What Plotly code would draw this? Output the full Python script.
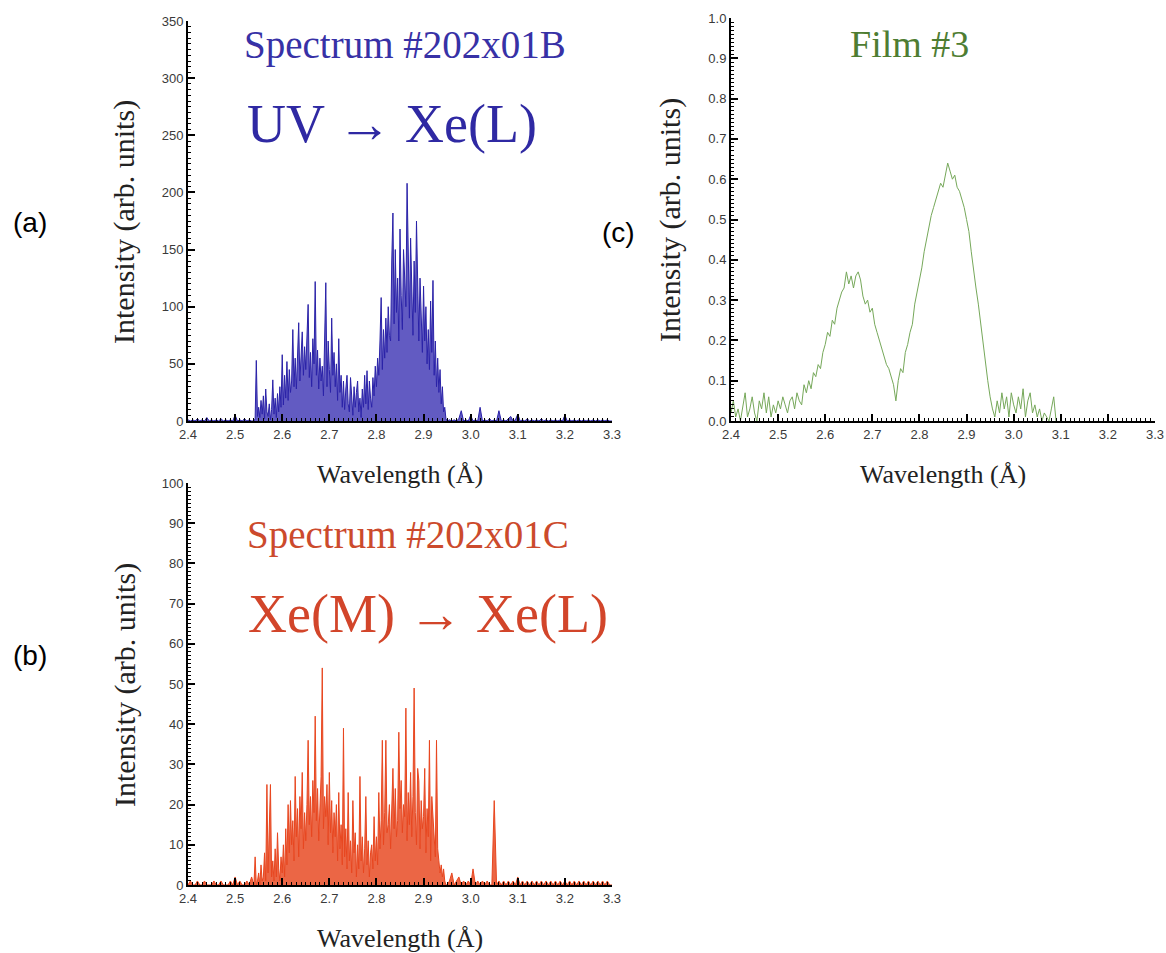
import plotly.graph_objects as go

W, H = 1166, 953

# ---------------- Panel (a): Spectrum #202x01B (UV -> Xe(L)) ----------------
A_LEFT_START, A_LEFT_STEP = 2.400, 0.005
a_left = [1, 0, 1, 0, 2, 0, 1, 0, 3, 0, 1, 0, 1, 0, 2, 0, 1, 0, 1, 0, 5, 0, 1, 0, 2, 0, 1, 0]
A_PEAK_START, A_PEAK_STEP = 2.540, 0.0025
a_peak = [
    0, 2, 53, 4,   12, 3, 18, 6,   22, 2, 28, 8,   4, 15, 1, 10,   36, 6, 20, 3,
    24, 8, 30, 12,  58, 14, 40, 20,  52, 18, 45, 25,  35, 80, 30, 55,  28, 62, 86, 35,
    58, 78, 40, 65,  45, 70, 102, 38,  60, 30, 72, 50,  122, 40, 62, 28,  55, 35, 48, 22,
    60, 121, 30, 70,  45, 25, 90, 40,  60, 30, 50, 18,  72, 25, 40, 12,  35, 10, 28, 40,
    15, 8, 38, 20,  5, 30, 12, 25,  35, 8, 20, 3,  28, 12, 40, 15,  44, 10, 35, 20,
    12, 38, 22, 48,  30, 55, 40, 70,  108, 45, 80, 55,  90, 60, 100, 75,  70, 140, 182, 85,
    150, 95, 125, 70,  168, 110, 80, 150,  120, 100, 208, 130,  90, 160, 110, 75,  140, 95, 175, 100,
    70, 125, 85, 60,  118, 70, 100, 50,  80, 45, 105, 60,  123, 40, 70, 30,  55, 25, 45, 15,
    30, 8, 12, 2,  0,
]
A_RIGHT_START, A_RIGHT_STEP = 2.955, 0.005
a_right = [
    1, 0, 1, 0, 2, 9, 0, 1, 0, 5, 0, 1, 0, 12, 0, 1, 0, 2, 0, 1,
    0, 9, 0, 1, 0, 2, 4, 0, 1, 6, 0, 1, 0, 2, 0, 1, 0, 1, 0, 2,
    0, 1, 0, 1, 0, 1, 0, 1, 0, 5, 0, 1, 0, 1, 0, 1, 0, 1, 0, 1,
    0, 1, 0, 1, 0, 1, 0, 1, 0, 0,
]

# ---------------- Panel (b): Spectrum #202x01C (Xe(M) -> Xe(L)) ----------------
B_LEFT_START, B_LEFT_STEP = 2.400, 0.005
b_left = [0, 1, 0, 0, 1, 0, 0, 1, 0, 0, 0, 1, 0, 0, 1, 0, 0, 0, 1, 0, 2, 0, 1, 0, 0, 1, 0, 2]
B_PEAK_START, B_PEAK_STEP = 2.540, 0.0025
b_peak = [
    0, 7, 0, 1,  3, 0, 5, 1,  2, 8, 1, 25,  3, 12, 25, 2,  6, 1, 9, 2,
    13, 4, 1, 7,  3, 10, 2, 14,  5, 20, 8, 21,  10, 16, 6, 27,  12, 19, 7, 22,
    14, 28, 9, 18,  11, 20, 36, 15,  22, 12, 26, 18,  42, 16, 24, 11,  20, 27, 54, 14,
    22, 17, 25, 10,  28, 13, 21, 8,  18, 12, 20, 6,  23, 9, 15, 5,  39, 7, 14, 4,
    23, 6, 11, 3,  21, 8, 13, 2,  10, 4, 27, 6,  12, 3, 9, 22,  5, 11, 2, 8,
    10, 4, 17, 6,  12, 5, 23, 9,  16, 36, 10, 18,  36, 13, 15, 20,  9, 22, 29, 14,
    24, 12, 16, 38,  19, 26, 13, 20,  17, 44, 11, 23,  15, 28, 12, 22,  49, 18, 10, 29,
    26, 9, 21, 14,  17, 29, 8, 19,  12, 36, 6, 22,  16, 13, 7, 36,  9, 6, 3, 5,
    2, 4, 1, 0,  0,
]
B_RIGHT_START, B_RIGHT_STEP = 2.955, 0.005
b_right = [
    1, 3, 0, 1, 2, 0, 1, 0, 1, 0, 4, 0, 1, 0, 1, 0, 1, 0, 0, 21,
    0, 1, 0, 1, 0, 1, 0, 1, 0, 2, 0, 1, 0, 1, 0, 1, 0, 1, 0, 1,
    0, 1, 0, 1, 0, 1, 0, 1, 0, 1, 0, 1, 0, 1, 0, 1, 0, 1, 0, 1,
    0, 1, 0, 1, 0, 1, 0, 1, 0, 0,
]

# ---------------- Panel (c): Film #3 ----------------
C_START, C_STEP = 2.400, 0.005
c_vals = [
    0.02, 0.05, 0.01, 0.03, 0.00, 0.04, 0.07, 0.01, 0.03, 0.06,
    0.02, 0.00, 0.05, 0.03, 0.07, 0.02, 0.06, 0.01, 0.04, 0.02,
    0.05, 0.03, 0.06, 0.04, 0.02, 0.05, 0.06, 0.03, 0.07, 0.05,
    0.04, 0.09, 0.07, 0.10, 0.08, 0.12, 0.11, 0.14, 0.13, 0.17,
    0.19, 0.22, 0.21, 0.25, 0.24, 0.28, 0.30, 0.32, 0.33, 0.37,
    0.34, 0.36, 0.33, 0.36, 0.37, 0.35, 0.31, 0.29, 0.30, 0.27,
    0.28, 0.24, 0.22, 0.20, 0.18, 0.16, 0.14, 0.13, 0.11, 0.09,
    0.05, 0.10, 0.13, 0.12, 0.17, 0.19, 0.22, 0.24, 0.29, 0.32,
    0.35, 0.38, 0.42, 0.45, 0.48, 0.51, 0.53, 0.55, 0.57, 0.59,
    0.58, 0.61, 0.64, 0.62, 0.60, 0.61, 0.58, 0.57, 0.55, 0.53,
    0.50, 0.47, 0.42, 0.37, 0.33, 0.29, 0.24, 0.19, 0.14, 0.10,
    0.06, 0.03, 0.01, 0.05, 0.02, 0.07, 0.03, 0.06, 0.01, 0.07,
    0.04, 0.02, 0.06, 0.03, 0.08, 0.01, 0.05, 0.07, 0.02, 0.04,
    0.01, 0.03, 0.00, 0.02, 0.01, 0.00, 0.03, 0.06, 0.00,
]

X_TICKS = [2.4, 2.5, 2.6, 2.7, 2.8, 2.9, 3.0, 3.1, 3.2, 3.3]
X_TICK_TEXT = ["2.4", "2.5", "2.6", "2.7", "2.8", "2.9", "3.0", "3.1", "3.2", "3.3"]


def grid(start, step, n):
    return [round(start + step * i, 5) for i in range(n)]


def series(parts):
    xs, ys = [], []
    for start, step, vals in parts:
        xs += grid(start, step, len(vals))
        ys += vals
    return xs, ys


ax, ay = series([(A_LEFT_START, A_LEFT_STEP, a_left), (A_PEAK_START, A_PEAK_STEP, a_peak),
                 (A_RIGHT_START, A_RIGHT_STEP, a_right)])
bx, by = series([(B_LEFT_START, B_LEFT_STEP, b_left), (B_PEAK_START, B_PEAK_STEP, b_peak),
                 (B_RIGHT_START, B_RIGHT_STEP, b_right)])
cx, cy = series([(C_START, C_STEP, c_vals)])

fig = go.Figure()
fig.add_trace(go.Scatter(x=ax, y=ay, mode="lines", line=dict(color="#2a22a8", width=1),
                         fill="tozeroy", fillcolor="rgba(38,28,170,0.72)",
                         xaxis="x", yaxis="y", showlegend=False))
fig.add_trace(go.Scatter(x=bx, y=by, mode="lines", line=dict(color="#e8461f", width=1),
                         fill="tozeroy", fillcolor="rgba(230,68,28,0.82)",
                         xaxis="x2", yaxis="y2", showlegend=False))
fig.add_trace(go.Scatter(x=cx, y=cy, mode="lines", line=dict(color="#76a85a", width=1),
                         xaxis="x3", yaxis="y3", showlegend=False))

tickfont = dict(family="Liberation Sans, Arial", size=13, color="#3a3a3a")


def xaxis_def(domain, anchor):
    return dict(domain=domain, anchor=anchor, range=[2.4, 3.3], tickmode="array",
                tickvals=X_TICKS, ticktext=X_TICK_TEXT, ticks="inside", ticklen=7,
                tickwidth=1.5, tickcolor="black", showline=True, linecolor="black",
                linewidth=2, showgrid=False, zeroline=False, tickfont=tickfont,
                minor=dict(ticks="inside", ticklen=3, dtick=0.01, tickcolor="black",
                           tickwidth=1, showgrid=False),
                automargin=False)


def yaxis_def(domain, anchor, rng, dtick, minor_dtick, fmt):
    return dict(domain=domain, anchor=anchor, range=rng, dtick=dtick, tick0=0,
                tickformat=fmt, ticks="inside", ticklen=7, tickwidth=1.5,
                tickcolor="black", showline=True, linecolor="black", linewidth=2,
                showgrid=False, zeroline=False, tickfont=tickfont,
                minor=dict(ticks="inside", ticklen=3, dtick=minor_dtick, tickcolor="black",
                           tickwidth=1, showgrid=False),
                automargin=False)


def px_x(p):
    return p / W


def px_y(p):
    return 1 - p / H


xa = [px_x(188), px_x(612)]
xc = [px_x(731), px_x(1155)]
ya = [px_y(421), px_y(21)]
yb = [px_y(885), px_y(483)]
yc = [px_y(421), px_y(18)]

fig.update_layout(
    width=W, height=H, margin=dict(l=0, r=0, t=0, b=0),
    paper_bgcolor="white", plot_bgcolor="white",
    xaxis=xaxis_def(xa, "y"),
    yaxis=yaxis_def(ya, "x", [0, 350], 50, 5, "d"),
    xaxis2=xaxis_def(xa, "y2"),
    yaxis2=yaxis_def(yb, "x2", [0, 100], 10, 1, "d"),
    xaxis3=xaxis_def(xc, "y3"),
    yaxis3=yaxis_def(yc, "x3", [0, 1.0], 0.1, 0.01, ".1f"),
)

serif = "Liberation Serif, Times New Roman, serif"
annots = [
    ("Spectrum #202x01B", 405, 45, 39, "#3731a6", serif, 0),
    ("UV \u2192 Xe(L)", 392, 124, 54, "#2f29a3", serif, 0),
    ("Spectrum #202x01C", 408, 535, 39, "#cc4a2c", serif, 0),
    ("Xe(M) \u2192 Xe(L)", 428, 614, 54, "#d2452a", serif, 0),
    ("Film #3", 910, 44, 38, "#4e7d32", serif, 0),
    ("(a)", 30, 222, 28, "black", "Liberation Sans, Arial", 0),
    ("(b)", 30, 655, 28, "black", "Liberation Sans, Arial", 0),
    ("(c)", 618, 233, 28, "black", "Liberation Sans, Arial", 0),
    ("Intensity (arb. units)", 124, 222, 30, "#222", serif, -90),
    ("Intensity (arb. units)", 125, 685, 30, "#222", serif, -90),
    ("Intensity (arb. units)", 670, 220, 30, "#222", serif, -90),
    ("Wavelength (\u00c5)", 400, 474, 26, "#222", serif, 0),
    ("Wavelength (\u00c5)", 400, 938, 26, "#222", serif, 0),
    ("Wavelength (\u00c5)", 943, 474, 26, "#222", serif, 0),
]
for text, x, y, size, color, fam, ang in annots:
    fig.add_annotation(text=text, x=px_x(x), y=px_y(y), xref="paper", yref="paper",
                       showarrow=False, xanchor="center", yanchor="middle", textangle=ang,
                       font=dict(family=fam, size=size, color=color))

fig.write_html("out.html")
